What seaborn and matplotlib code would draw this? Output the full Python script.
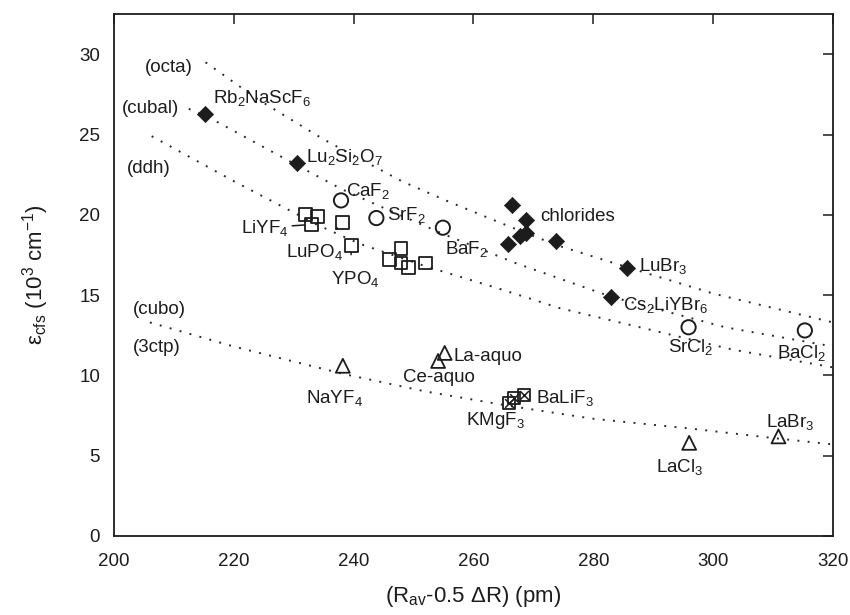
import matplotlib
matplotlib.use("Agg")
import matplotlib.pyplot as plt
import seaborn as sns
import pandas as pd

# ---------------- data ----------------
# filled diamonds
diam_x = [215.2, 230.6, 266.5, 268.7, 265.7, 267.8, 268.7, 273.8, 285.7, 283.0]
diam_y = [26.3, 23.2, 20.6, 19.7, 18.2, 18.7, 18.9, 18.4, 16.7, 14.9]
# open circles: CaF2, SrF2, BaF2, SrCl2, BaCl2
circ_x = [237.9, 243.8, 254.9, 295.9, 315.3]
circ_y = [20.9, 19.8, 19.2, 13.0, 12.8]
# open squares: LiYF4 (3), LuPO4, YPO4, cluster
sq_x = [232.0, 234.0, 233.0, 238.1, 239.6, 247.9, 246.0, 247.9, 249.2, 252.0]
sq_y = [20.0, 19.9, 19.4, 19.5, 18.1, 17.9, 17.2, 17.0, 16.7, 17.0]
# open triangles: NaYF4, Ce-aquo, La-aquo, LaCl3, LaBr3
tri_x = [238.2, 254.1, 255.2, 296.0, 310.9]
tri_y = [10.6, 10.9, 11.4, 5.8, 6.2]
# crossed squares: KMgF3, BaLiF3
xsq_x = [266.0, 266.8, 268.5]
xsq_y = [8.3, 8.6, 8.8]

# dotted guide curves
octa_x = [215.3, 224, 235, 248, 256, 266.5, 274, 286, 300, 320]
octa_y = [29.5, 27.2, 24.7, 22.1, 20.8, 19.2, 18.1, 16.7, 15.1, 13.3]
cubal_x = [212.5, 215.2, 230.5, 238, 244, 255, 267, 283, 302, 320]
cubal_y = [26.6, 26.2, 23.1, 21.6, 20.6, 18.8, 17.0, 14.9, 13.0, 11.8]
ddh_x = [206.3, 220, 233.8, 241, 252, 264.3, 274.3, 290, 303.3, 320]
ddh_y = [24.9, 22.1, 19.4, 18.2, 16.8, 15.4, 14.2, 12.8, 11.6, 10.5]
cubo_x = [206, 220, 238.2, 252, 266, 280, 296, 310, 320]
cubo_y = [13.3, 11.8, 10.1, 9.0, 8.1, 7.3, 6.7, 6.1, 5.7]

x_ticks = [200, 220, 240, 260, 280, 300, 320]
y_ticks = [0, 5, 10, 15, 20, 25, 30]

# ---------------- style ----------------
sns.set_theme(style="white")
plt.rcParams['font.family'] = ['Liberation Sans', 'DejaVu Sans']
plt.rcParams['mathtext.fontset'] = 'custom'
plt.rcParams['mathtext.rm'] = 'Liberation Sans'
plt.rcParams['mathtext.it'] = 'Liberation Sans:italic'
plt.rcParams['mathtext.bf'] = 'Liberation Sans:bold'

INK = '#1c1c1c'
fig = plt.figure(figsize=(8.5, 6.15), dpi=100)
ax = fig.add_axes([0.134, 0.1285, 0.846, 0.8485])

dot = (0, (1, 4.3))
for cx, cy in [(octa_x, octa_y), (cubal_x, cubal_y), (ddh_x, ddh_y), (cubo_x, cubo_y)]:
    sns.lineplot(x=cx, y=cy, ax=ax, sort=False, estimator=None, color='#2a2a2a',
                 linewidth=1.4, linestyle=dot)

sns.scatterplot(x=diam_x, y=diam_y, ax=ax, marker='D', s=68, color=INK,
                edgecolor=INK, linewidth=0.5, zorder=5)
sns.scatterplot(x=circ_x, y=circ_y, ax=ax, marker='o', s=105, facecolor='none',
                edgecolor=INK, linewidth=1.4, zorder=5)
sns.scatterplot(x=sq_x, y=sq_y, ax=ax, marker='s', s=85, facecolor='none',
                edgecolor=INK, linewidth=1.3, zorder=5)
sns.scatterplot(x=tri_x, y=tri_y, ax=ax, marker='^', s=100, facecolor='none',
                edgecolor=INK, linewidth=1.3, zorder=5)
sns.scatterplot(x=xsq_x, y=xsq_y, ax=ax, marker='s', s=75, facecolor='none',
                edgecolor=INK, linewidth=1.3, zorder=5)
sns.scatterplot(x=xsq_x, y=xsq_y, ax=ax, marker='x', s=40, color=INK,
                linewidth=1.1, zorder=6)

ax.set_xlim(200, 320)
ax.set_ylim(0, 32.5)
ax.set_xticks(x_ticks)
ax.set_yticks(y_ticks)
ax.tick_params(direction='in', length=7, width=1.1, top=True, right=True,
               labelsize=13.5, colors=INK)
ax.tick_params(axis='x', pad=12)
ax.tick_params(axis='y', pad=10)
for sp in ax.spines.values():
    sp.set_color(INK)
    sp.set_linewidth(1.3)

ax.set_xlabel(r'(R$_{\mathrm{av}}$-0.5 ΔR) (pm)', fontsize=16, color=INK, labelpad=10)
ax.set_ylabel(r'ε$_{\mathrm{cfs}}$ (10$^{3}$ cm$^{-1}$)', fontsize=16, color=INK, labelpad=20)

fs = 13.5
def lab(x, y, s, ha='left'):
    ax.text(x, y, s, fontsize=fs, color=INK, ha=ha, va='center')

# curve labels
lab(205.2, 29.2, '(octa)')
lab(201.3, 26.6, '(cubal)')
lab(202.1, 22.9, '(ddh)')
lab(203.2, 14.1, '(cubo)')
lab(203.2, 11.75, '(3ctp)')

# compound labels
lab(216.6, 27.3, r'Rb$_2$NaScF$_6$')
lab(232.1, 23.6, r'Lu$_2$Si$_2$O$_7$')
lab(238.8, 21.5, r'CaF$_2$')
lab(245.5, 20.0, r'SrF$_2$')
lab(255.2, 17.9, r'BaF$_2$')
lab(271.1, 19.9, 'chlorides')
lab(287.7, 16.8, r'LuBr$_3$')
lab(284.9, 14.4, r'Cs$_2$LiYBr$_6$')
lab(292.4, 11.8, r'SrCl$_2$')
lab(310.7, 11.4, r'BaCl$_2$')
lab(232.1, 8.6, r'NaYF$_4$')
lab(256.6, 11.2, 'La-aquo')
lab(248.2, 9.85, 'Ce-aquo')
lab(258.8, 7.2, r'KMgF$_3$')
lab(270.4, 8.6, r'BaLiF$_3$')
lab(290.4, 4.3, r'LaCl$_3$')
lab(308.8, 7.1, r'LaBr$_3$')

arrow = dict(arrowstyle='-', color=INK, lw=1.1, shrinkA=0, shrinkB=5)
ax.annotate(r'LiYF$_4$', xy=(sq_x[2], sq_y[2]), xytext=(229.2, 19.2), fontsize=fs,
            color=INK, ha='right', va='center', arrowprops=arrow)
ax.annotate(r'LuPO$_4$', xy=(sq_x[3], sq_y[3]), xytext=(228.8, 17.7), fontsize=fs,
            color=INK, ha='left', va='center',
            arrowprops=dict(arrowstyle='-', color=INK, lw=1.1, shrinkA=9, shrinkB=5))
ax.annotate(r'YPO$_4$', xy=(sq_x[4], sq_y[4]), xytext=(236.3, 16.0), fontsize=fs,
            color=INK, ha='left', va='center',
            arrowprops=dict(arrowstyle='-', color=INK, lw=1.1, shrinkA=8, shrinkB=5,
                            relpos=(0.4, 1.0)))

fig.savefig('out.png', dpi=100)
